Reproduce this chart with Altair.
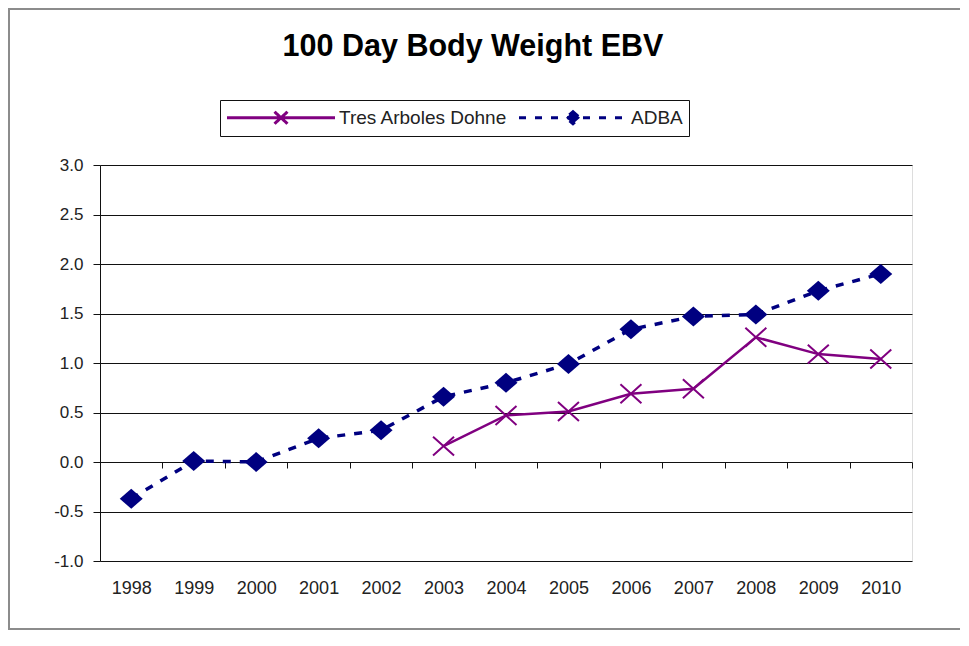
import altair as alt
import pandas as pd

# ---- data ----
years = ["1998", "1999", "2000", "2001", "2002", "2003", "2004",
         "2005", "2006", "2007", "2008", "2009", "2010"]
adba_values = [-0.37, 0.01, 0.00, 0.24, 0.32, 0.66, 0.80,
               0.99, 1.34, 1.47, 1.49, 1.73, 1.90]
tres_years = ["2003", "2004", "2005", "2006", "2007", "2008", "2009", "2010"]
tres_values = [0.16, 0.47, 0.51, 0.69, 0.74, 1.26, 1.09, 1.04]
series_names = ["Tres Arboles Dohne", "ADBA"]
y_ticks = [-1.0, -0.5, 0.0, 0.5, 1.0, 1.5, 2.0, 2.5, 3.0]

PURPLE = "#800080"
NAVY = "#000080"
FONT = "Liberation Sans"

rows = [{"year": y, "series": "ADBA", "value": v} for y, v in zip(years, adba_values)]
rows += [{"year": y, "series": "Tres Arboles Dohne", "value": v} for y, v in zip(tres_years, tres_values)]
df = pd.DataFrame(rows)

W, H = 812, 396

x_enc = alt.X(
    "year:O",
    sort=years,
    scale=alt.Scale(type="band", domain=years, paddingInner=0, paddingOuter=0),
    bandPosition=0.5,
    axis=alt.Axis(
        title=None, offset=-H / 4, domain=False, grid=False,
        ticks=True, tickBand="extent", tickSize=6, tickColor="#111", tickWidth=1,
        labelPadding=H / 4 + 12, labelFont=FONT, labelFontSize=18, labelColor="#222",
        labelAngle=0,
    ),
)
y_enc = alt.Y(
    "value:Q",
    scale=alt.Scale(domain=[-1, 3], nice=False, zero=False),
    axis=alt.Axis(
        title=None, values=y_ticks,
        labelExpr="replace(format(datum.value, '.1f'), '\u2212', '-')",
        grid=True, gridColor="#111", gridWidth=1,
        domain=True, domainColor="#111", domainWidth=1,
        ticks=True, tickSize=7, tickColor="#111",
        labelPadding=10, labelFont=FONT, labelFontSize=17, labelColor="#222",
    ),
)

base = alt.Chart(df)

# outer chart frame (decorative)
frame = alt.Chart(alt.Data(values=[{"f": 1}])).mark_rect(
    fill="transparent", stroke="#8c8c8c", strokeWidth=2
).encode(x=alt.value(-91), x2=alt.value(900), y=alt.value(-156), y2=alt.value(464))

tres = base.transform_filter(alt.datum.series == "Tres Arboles Dohne")
adba = base.transform_filter(alt.datum.series == "ADBA")

tres_line = tres.mark_line(color=PURPLE, strokeWidth=2.5).encode(x=x_enc, y=y_enc)
tres_pts = tres.mark_point(
    shape="M-1,-0.9L1,0.9M-1,0.9L1,-0.9", size=441, filled=False,
    color=PURPLE, strokeWidth=2, opacity=1
).encode(x=x_enc, y=y_enc)

adba_line = adba.mark_line(color=NAVY, strokeWidth=3.5, strokeDash=[8, 9]).encode(x=x_enc, y=y_enc)
adba_pts = adba.mark_point(
    shape="M-1,0L0,-0.87L1,0L0,0.87Z", size=529, filled=True,
    color=NAVY, strokeWidth=0, opacity=1
).encode(x=x_enc, y=y_enc)

# legend-only layer (no rows drawn)
leg_tres_path = "M-1.05,0L9.75,0M3.7,-0.6L5.0,0.6M3.7,0.6L5.0,-0.6"
leg_adba_path = "M-1.05,0L9.75,0M4.35,-0.6L5.05,0L4.35,0.6L3.65,0Z"

legend = alt.Legend(
    title=None, orient="none", legendX=120, legendY=-65, direction="horizontal",
    columns=2, strokeColor="#111", fillColor="white", padding=6,
    symbolSize=400, symbolStrokeWidth=3, labelOffset=90, columnPadding=5,
    labelFont=FONT, labelFontSize=19, labelColor="#222", labelLimit=400,
)

legend_layer = base.transform_filter("false").mark_point(filled=True, opacity=1).encode(
    x=x_enc, y=y_enc,
    shape=alt.Shape("series:N", scale=alt.Scale(domain=series_names, range=[leg_tres_path, leg_adba_path]), legend=legend),
    fill=alt.Fill("series:N", scale=alt.Scale(domain=series_names, range=["transparent", NAVY]), legend=legend),
    stroke=alt.Stroke("series:N", scale=alt.Scale(domain=series_names, range=[PURPLE, NAVY]), legend=legend),
    strokeDash=alt.StrokeDash("series:N", scale=alt.Scale(domain=series_names, range=[[1, 0], [7, 9]]), legend=legend),
)

chart = alt.layer(frame, tres_line, tres_pts, adba_line, adba_pts, legend_layer).properties(
    width=W, height=H,
    autosize=alt.AutoSizeParams(type="none"),
    padding={"left": 92, "top": 157, "right": 48, "bottom": 69},
    title=alt.TitleParams(
        "100 Day Body Weight EBV", font=FONT, fontSize=30.5, fontWeight="bold",
        color="black", anchor="middle", frame="group", dx=-33, offset=-78,
        baseline="alphabetic",
    ),
).configure_view(stroke="#111", strokeWidth=1).configure(background="white")

chart.save("out.html", embed_options={"renderer": "svg", "actions": False})
